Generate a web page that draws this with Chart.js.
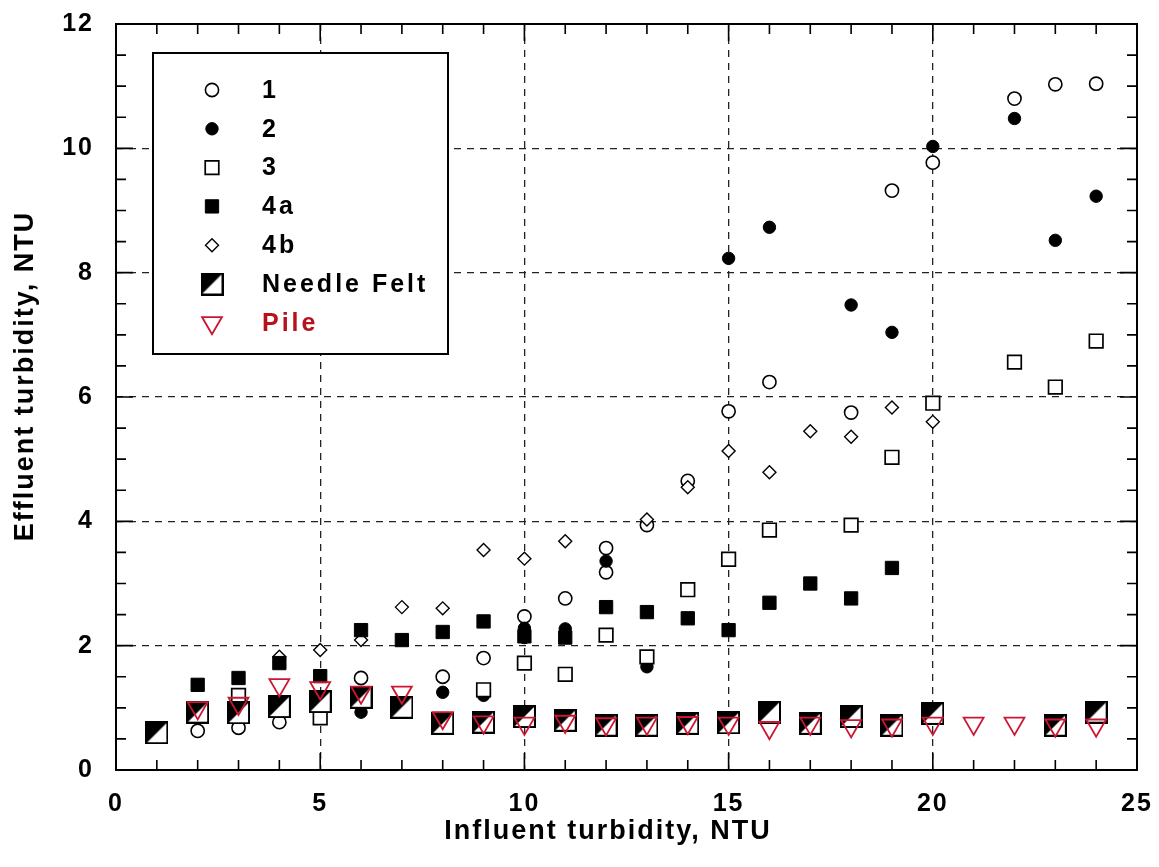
<!DOCTYPE html>
<html lang="en">
<head>
  <meta charset="UTF-8" />
  <title>Effluent vs influent turbidity</title>
  <style>
    html, body { margin: 0; padding: 0; background: #fff; }
    canvas { display: block; }
  </style>
</head>
<body>
  <canvas id="turbChart" width="1159" height="867"></canvas>

  <script src="https://cdn.jsdelivr.net/npm/chart.js"></script>
  <script>
    // series values (x = influent NTU, y = effluent NTU)
    const s1X = [2, 3, 4, 6, 8, 9, 10, 11, 12, 12, 13, 14, 15, 16, 18, 19, 20, 22, 23, 24];
    const s1Y = [0.63, 0.68, 0.77, 1.48, 1.5, 1.8, 2.47, 2.76, 3.57, 3.18, 3.94, 4.65, 5.77, 6.24, 5.75, 9.32, 9.77, 10.8, 11.03, 11.04];

    const s2X = [5, 6, 8, 9, 10, 10, 11, 12, 13, 15, 16, 18, 19, 20, 22, 23, 24];
    const s2Y = [0.88, 0.93, 1.25, 1.2, 2.28, 2.13, 2.27, 3.36, 1.66, 8.23, 8.73, 7.48, 7.04, 10.03, 10.48, 8.52, 9.23];

    const s3X = [2, 3, 5, 6, 7, 8, 9, 10, 11, 12, 13, 14, 15, 16, 18, 19, 20, 22, 23, 24];
    const s3Y = [0.93, 1.2, 0.84, 1.17, 1.01, 0.75, 1.29, 1.72, 1.54, 2.17, 1.82, 2.9, 3.39, 3.86, 3.94, 5.03, 5.9, 6.56, 6.16, 6.9];

    const s4aX = [2, 3, 4, 5, 6, 7, 8, 9, 10, 11, 12, 13, 14, 15, 16, 17, 18, 19];
    const s4aY = [1.37, 1.48, 1.72, 1.51, 2.25, 2.09, 2.22, 2.39, 2.15, 2.13, 2.62, 2.54, 2.44, 2.25, 2.69, 3.0, 2.76, 3.25];

    const s4bX = [4, 5, 6, 7, 8, 9, 10, 11, 13, 14, 15, 16, 17, 18, 19, 20];
    const s4bY = [1.82, 1.93, 2.09, 2.62, 2.6, 3.54, 3.4, 3.68, 4.03, 4.55, 5.13, 4.79, 5.45, 5.36, 5.83, 5.6];

    const feltX = [1, 2, 3, 4, 5, 6, 7, 8, 9, 10, 11, 12, 13, 14, 15, 16, 17, 18, 19, 20, 23, 24];
    const feltY = [0.6, 0.93, 0.92, 1.02, 1.1, 1.17, 1.01, 0.75, 0.77, 0.86, 0.8, 0.72, 0.72, 0.75, 0.76, 0.93, 0.75, 0.86, 0.72, 0.91, 0.72, 0.93];

    const pileX = [2, 3, 4, 5, 6, 7, 8, 9, 10, 11, 12, 13, 14, 15, 16, 17, 18, 19, 20, 21, 22, 23, 24];
    const pileY = [1.0, 1.07, 1.37, 1.32, 1.25, 1.25, 0.84, 0.77, 0.75, 0.78, 0.74, 0.75, 0.76, 0.75, 0.68, 0.75, 0.71, 0.72, 0.75, 0.75, 0.75, 0.72, 0.72];

    const seriesLabels = ['1', '2', '3', '4a', '4b', 'Needle Felt', 'Pile'];
    const xTitle = 'Influent turbidity, NTU';
    const yTitle = 'Effluent turbidity, NTU';

    const FONT = '"Liberation Sans", Arial, Helvetica, sans-serif';
    const RED = '#cc1632';

    function toPoints(xs, ys) {
      return xs.map((x, i) => ({ x: x, y: ys[i] }));
    }

    // half black / half white square marker for needle felt
    function feltMarker(size) {
      const c = document.createElement('canvas');
      c.width = size; c.height = size;
      const g = c.getContext('2d');
      g.fillStyle = '#fff';
      g.fillRect(0, 0, size, size);
      g.fillStyle = '#000';
      g.beginPath();
      g.moveTo(0, 0); g.lineTo(size, 0); g.lineTo(0, size);
      g.closePath();
      g.fill();
      g.strokeStyle = '#000';
      g.lineWidth = 2;
      g.strokeRect(1, 1, size - 2, size - 2);
      return c;
    }
    const feltImg = feltMarker(23);

    const spacing = {
      id: 'spacing',
      beforeLayout(chart) { chart.ctx.letterSpacing = '2px'; },
      beforeDraw(chart) { chart.ctx.letterSpacing = '2px'; }
    };

    // frame, inward ticks on all sides, axis titles and the boxed legend
    const frame = {
      id: 'frame',
      afterDraw(chart) {
        const ctx = chart.ctx;
        const a = chart.chartArea;
        const xs = chart.scales.x, ys = chart.scales.y;
        ctx.save();
        ctx.strokeStyle = '#000';
        ctx.lineWidth = 2;
        ctx.strokeRect(a.left, a.top, a.right - a.left, a.bottom - a.top);

        ctx.lineWidth = 1.6;
        ctx.beginPath();
        for (let v = 0; v <= 25; v += 1) {
          const px = xs.getPixelForValue(v);
          const len = v % 5 === 0 ? 17 : 10;
          ctx.moveTo(px, a.bottom); ctx.lineTo(px, a.bottom - len);
          ctx.moveTo(px, a.top); ctx.lineTo(px, a.top + len);
        }
        for (let v = 0; v <= 12; v += 0.5) {
          const py = ys.getPixelForValue(v);
          const len = v % 2 === 0 ? 17 : 10;
          ctx.moveTo(a.left, py); ctx.lineTo(a.left + len, py);
          ctx.moveTo(a.right, py); ctx.lineTo(a.right - len, py);
        }
        ctx.stroke();

        // axis titles
        ctx.letterSpacing = '2px';
        ctx.font = 'bold 27px ' + FONT;
        ctx.fillStyle = '#000';
        ctx.textAlign = 'center';
        ctx.textBaseline = 'middle';
        ctx.fillText(xTitle, 608, 832);
        ctx.save();
        ctx.translate(26, 376);
        ctx.rotate(-Math.PI / 2);
        ctx.fillText(yTitle, 0, 0);
        ctx.restore();

        // legend box
        const bx = 153, by = 53, bw = 295, bh = 301;
        ctx.fillStyle = '#fff';
        ctx.fillRect(bx, by, bw, bh);
        ctx.lineWidth = 2;
        ctx.strokeStyle = '#000';
        ctx.strokeRect(bx, by, bw, bh);

        ctx.letterSpacing = '3px';
        ctx.font = 'bold 25px ' + FONT;
        ctx.textBaseline = 'middle';
        ctx.textAlign = 'left';
        chart.data.datasets.forEach((ds, i) => {
          const y = 90 + i * 38.8;
          ctx.fillStyle = ds.backgroundColor;
          ctx.strokeStyle = ds.borderColor;
          ctx.lineWidth = ds.borderWidth;
          Chart.helpers.drawPoint(ctx, {
            pointStyle: ds.pointStyle,
            radius: ds.pointRadius,
            rotation: ds.pointRotation || 0,
            borderWidth: ds.borderWidth
          }, 212, y);
          ctx.fillStyle = ds.label === 'Pile' ? '#b5121b' : '#000';
          ctx.fillText(ds.label, 262, y + 1);
        });
        ctx.restore();
      }
    };

    const datasets = [
      { label: seriesLabels[0], data: toPoints(s1X, s1Y), pointStyle: 'circle', pointRadius: 6.6,
        backgroundColor: '#fff', borderColor: '#000', borderWidth: 1.6, order: 6 },
      { label: seriesLabels[1], data: toPoints(s2X, s2Y), pointStyle: 'circle', pointRadius: 6.2,
        backgroundColor: '#000', borderColor: '#000', borderWidth: 1, order: 5 },
      { label: seriesLabels[2], data: toPoints(s3X, s3Y), pointStyle: 'rect', pointRadius: 9.6,
        backgroundColor: '#fff', borderColor: '#000', borderWidth: 1.7, order: 4 },
      { label: seriesLabels[3], data: toPoints(s4aX, s4aY), pointStyle: 'rect', pointRadius: 9.4,
        backgroundColor: '#000', borderColor: '#000', borderWidth: 1, order: 2 },
      { label: seriesLabels[4], data: toPoints(s4bX, s4bY), pointStyle: 'rectRot', pointRadius: 6.5,
        backgroundColor: '#fff', borderColor: '#000', borderWidth: 1.4, order: 3 },
      { label: seriesLabels[5], data: toPoints(feltX, feltY), pointStyle: feltImg, pointRadius: 11,
        backgroundColor: '#fff', borderColor: '#000', borderWidth: 0, order: 1 },
      { label: seriesLabels[6], data: toPoints(pileX, pileY), pointStyle: 'triangle', pointRotation: 180,
        pointRadius: 11.5, backgroundColor: 'rgba(255,255,255,0)', borderColor: RED, borderWidth: 1.8, order: 0 }
    ];

    const edgeHidden = (lo, hi) => (c) =>
      (c.tick && (c.tick.value === lo || c.tick.value === hi)) ? 'rgba(0,0,0,0)' : '#222';

    new Chart(document.getElementById('turbChart'), {
      type: 'scatter',
      data: { datasets: datasets },
      options: {
        responsive: false,
        animation: false,
        layout: { padding: { top: 24, right: 22, left: 0, bottom: 0 } },
        plugins: {
          legend: { display: false },
          tooltip: { enabled: false }
        },
        scales: {
          x: {
            type: 'linear', min: 0, max: 25,
            afterFit: (s) => { s.height = 97; s.paddingLeft = 0; s.paddingRight = 0; },
            ticks: { stepSize: 5, color: '#000', padding: 19, maxRotation: 0,
                     font: { family: FONT, size: 25, weight: 'bold' } },
            grid: { color: edgeHidden(0, 25), lineWidth: 1.3, drawTicks: false },
            border: { display: false, dash: [7, 6] }
          },
          y: {
            type: 'linear', min: 0, max: 12,
            afterFit: (s) => { s.width = 116; s.paddingTop = 0; s.paddingBottom = 0; },
            ticks: { stepSize: 2, color: '#000', padding: 22,
                     font: { family: FONT, size: 25, weight: 'bold' } },
            grid: { color: edgeHidden(0, 12), lineWidth: 1.3, drawTicks: false },
            border: { display: false, dash: [7, 6] }
          }
        }
      },
      plugins: [spacing, frame]
    });
  </script>
</body>
</html>
